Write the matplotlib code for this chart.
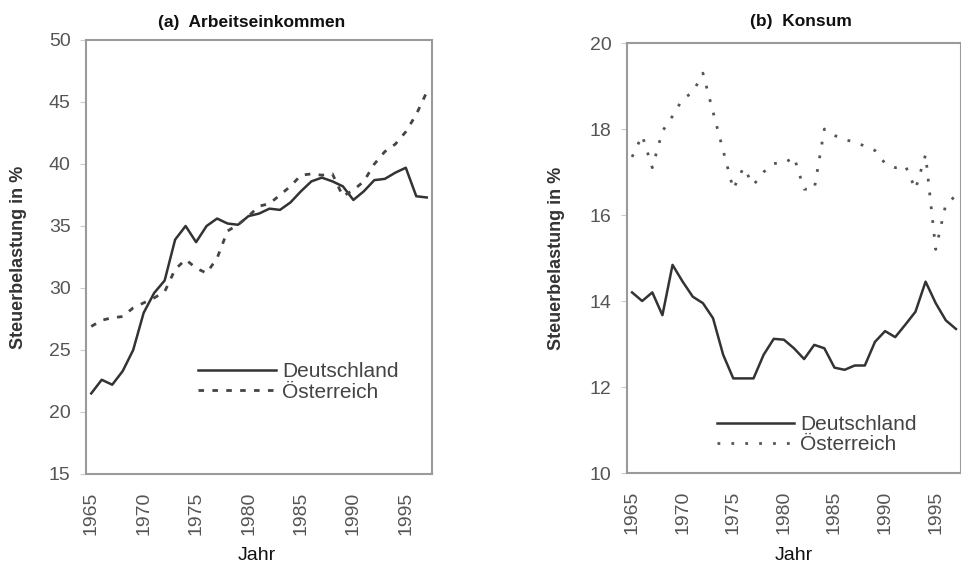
import matplotlib
matplotlib.use("Agg")
import matplotlib.pyplot as plt

plt.rcParams['font.family'] = ['Liberation Sans', 'DejaVu Sans']

years = list(range(1965, 1998))

# (a) Arbeitseinkommen
arbeit_de = [21.5, 22.6, 22.2, 23.3, 25.0, 28.0, 29.6, 30.6, 33.9, 35.0, 33.7,
             35.0, 35.6, 35.2, 35.1, 35.8, 36.0, 36.4, 36.3, 36.9, 37.8, 38.6,
             38.9, 38.6, 38.2, 37.1, 37.8, 38.7, 38.8, 39.3, 39.7, 37.4, 37.3]
arbeit_at = [26.9, 27.4, 27.6, 27.7, 28.4, 28.8, 29.2, 29.7, 31.5, 32.3, 31.6,
             31.2, 32.4, 34.6, 35.1, 35.8, 36.6, 36.8, 37.5, 38.2, 39.1, 39.2,
             39.1, 39.2, 37.4, 37.9, 38.6, 40.0, 41.0, 41.6, 42.6, 44.0, 45.8]

# (b) Konsum
konsum_de = [14.2, 14.0, 14.2, 13.67, 14.84, 14.45, 14.1, 13.95, 13.6, 12.75,
             12.2, 12.2, 12.2, 12.75, 13.12, 13.1, 12.9, 12.65, 12.98, 12.9,
             12.45, 12.4, 12.5, 12.5, 13.05, 13.3, 13.16, 13.45, 13.75, 14.45,
             13.95, 13.55, 13.35]
konsum_at = [17.35, 17.85, 17.1, 17.95, 18.3, 18.7, 18.85, 19.3, 18.4, 17.5,
             16.6, 17.1, 16.7, 17.0, 17.2, 17.2, 17.35, 16.6, 16.6, 18.0, 17.85,
             17.75, 17.7, 17.6, 17.5, 17.2, 17.1, 17.15, 16.6, 17.4, 15.2,
             16.25, 16.45]

xticks = [1965, 1970, 1975, 1980, 1985, 1990, 1995]
labels = ['Deutschland', 'Österreich']

W, H = 962, 569
fig = plt.figure(figsize=(W / 100, H / 100), dpi=100)

def px_axes(x0, y0, x1, y1):
    return fig.add_axes([x0 / W, 1 - y1 / H, (x1 - x0) / W, (y1 - y0) / H])

ax1 = px_axes(86, 40, 432, 474)
ax2 = px_axes(627, 43, 961, 473)

tick_color = '#555555'
spine_color = '#9a9a9a'

def style(ax, ylim, yticks):
    ax.set_xlim(1964.5, 1997.5)
    ax.set_ylim(*ylim)
    ax.set_yticks(yticks)
    ax.set_xticks(xticks)
    ax.set_xticklabels([str(x) for x in xticks], rotation=90)
    for s in ax.spines.values():
        s.set_color(spine_color)
        s.set_linewidth(1.5)
    ax.tick_params(axis='y', length=4, color='#cccccc', labelsize=14,
                   labelcolor=tick_color, pad=7)
    ax.tick_params(axis='x', length=0, labelsize=14, labelcolor=tick_color,
                   pad=13)

# left panel
ax1.plot(years, arbeit_de, color='#333333', lw=1.8, label=labels[0])
ax1.plot(years, arbeit_at, color='#444444', lw=2.0, ls=(0, (2, 3)),
         label=labels[1])
style(ax1, (15, 50), [15, 20, 25, 30, 35, 40, 45, 50])
ax1.text(0.48, 1.041, '(a)  Arbeitseinkommen', transform=ax1.transAxes,
         ha='center', va='center', fontsize=12.5, fontweight='bold',
         color='#111111')
ax1.set_ylabel('Steuerbelastung in %', fontsize=13, fontweight='bold',
               color='#333333')
ax1.yaxis.set_label_coords(-0.17, 0.5)
ax1.set_xlabel('Jahr', fontsize=14, color='#111111')
ax1.xaxis.set_label_coords(0.494, -0.168)
ax1.legend(loc='upper left', bbox_to_anchor=(0.325, 0.257), frameon=False,
           fontsize=15, handlelength=3.7, handletextpad=0.3,
           labelspacing=0.05, borderpad=0, borderaxespad=0,
           labelcolor='#444444')

# right panel
ax2.plot(years, konsum_de, color='#333333', lw=1.8, label=labels[0])
ax2.plot(years, konsum_at, color='#555555', lw=2.0, ls=(0, (1, 4)),
         label=labels[1])
style(ax2, (10, 20), [10, 12, 14, 16, 18, 20])
ax2.text(0.52, 1.051, '(b)  Konsum', transform=ax2.transAxes,
         ha='center', va='center', fontsize=12.5, fontweight='bold',
         color='#111111')
ax2.set_ylabel('Steuerbelastung in %', fontsize=13, fontweight='bold',
               color='#333333')
ax2.yaxis.set_label_coords(-0.185, 0.5)
ax2.set_xlabel('Jahr', fontsize=14, color='#111111')
ax2.xaxis.set_label_coords(0.5, -0.172)
ax2.legend(loc='upper left', bbox_to_anchor=(0.268, 0.134), frameon=False,
           fontsize=15, handlelength=3.7, handletextpad=0.3,
           labelspacing=0.05, borderpad=0, borderaxespad=0,
           labelcolor='#444444')

fig.savefig('out.png', dpi=100)
